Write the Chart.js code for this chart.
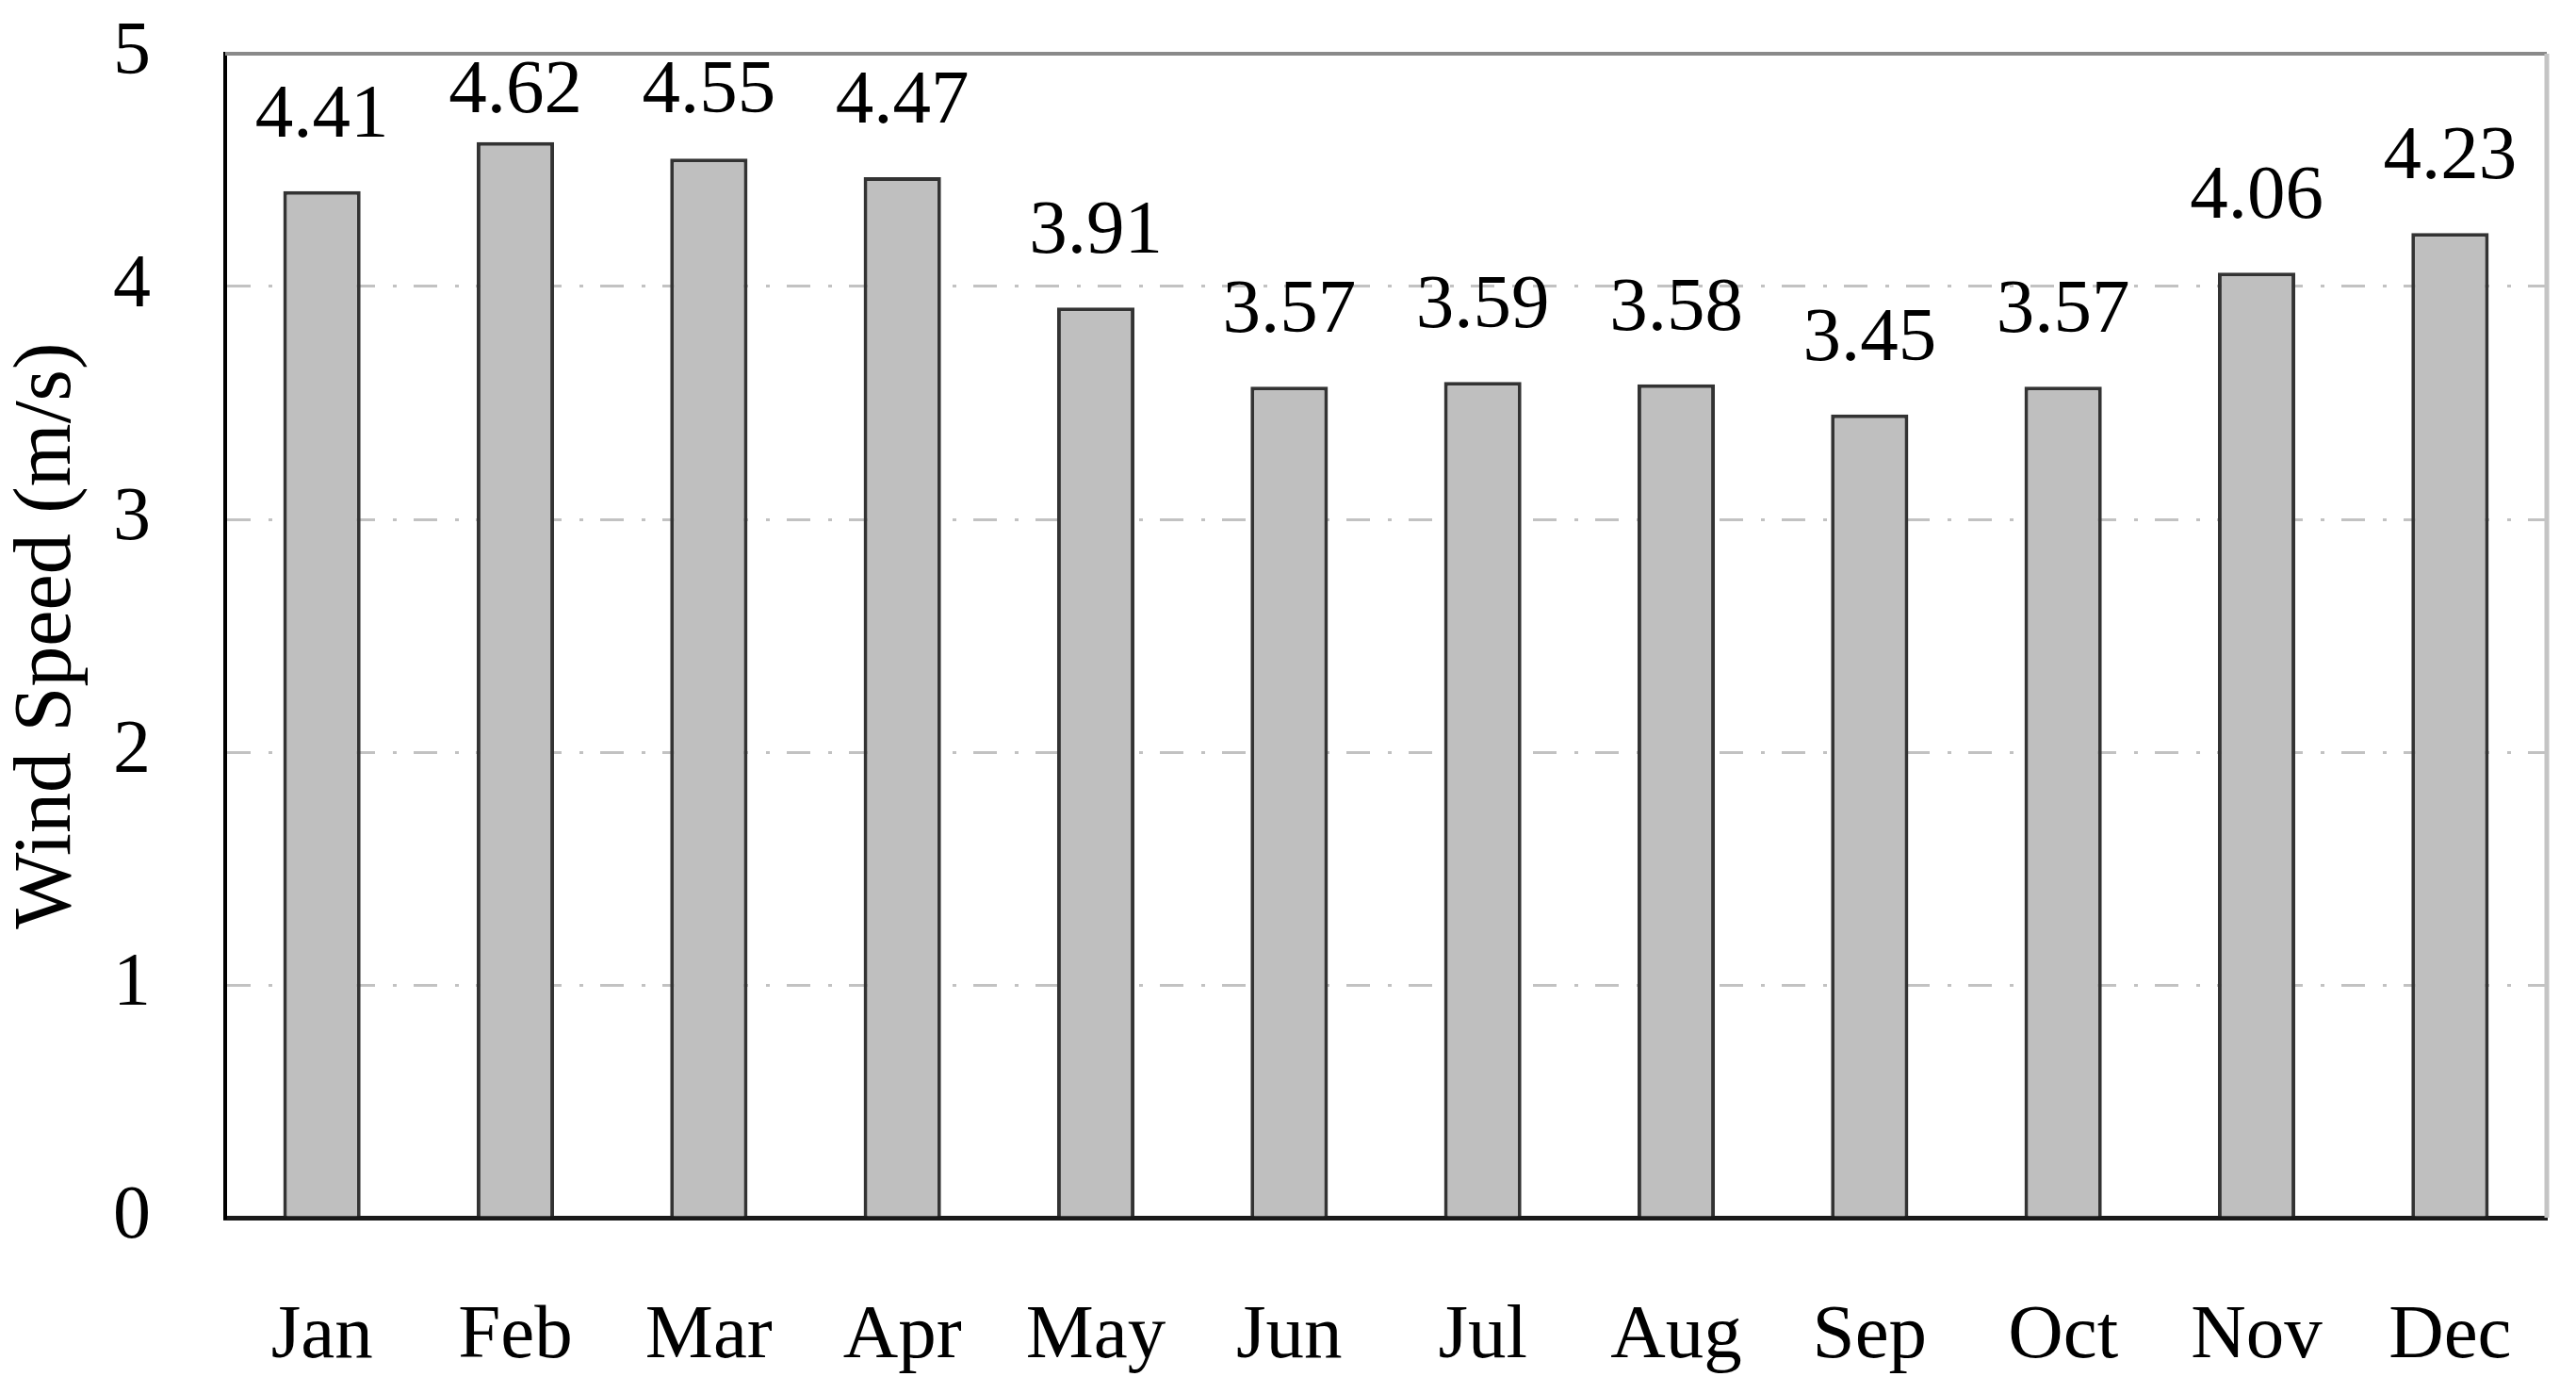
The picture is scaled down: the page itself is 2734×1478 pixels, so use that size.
<!DOCTYPE html>
<html>
<head>
<meta charset="utf-8">
<script src="https://cdn.jsdelivr.net/npm/chart.js@4/dist/chart.umd.min.js"></script>
<style>
html,body{margin:0;padding:0;background:#fff;}
#wrap{width:2734px;height:1478px;position:relative;}
</style>
</head>
<body>
<div id="wrap"><canvas id="c" width="2734" height="1478"></canvas></div>
<script>
const months = ["Jan","Feb","Mar","Apr","May","Jun","Jul","Aug","Sep","Oct","Nov","Dec"];
const windSpeed = [4.41,4.62,4.55,4.47,3.91,3.57,3.59,3.58,3.45,3.57,4.06,4.23];
const yTicks = [0,1,2,3,4,5];
const yTitle = "Wind Speed (m/s)";

const FONT = "'Liberation Serif', 'Times New Roman', serif";

const valueLabels = {
  id: 'valueLabels',
  afterDatasetsDraw(chart) {
    const ctx = chart.ctx;
    const meta = chart.getDatasetMeta(0);
    const area = chart.chartArea;
    ctx.save();
    ctx.font = "81px " + FONT;
    ctx.fillStyle = "#000";
    ctx.textAlign = "center";
    ctx.textBaseline = "alphabetic";
    meta.data.forEach((bar, i) => {
      const y = Math.max(bar.y - 58, area.top + 62);
      ctx.fillText(windSpeed[i].toFixed(2), bar.x, y);
    });
    ctx.restore();
  }
};

const frame = {
  id: 'frame',
  afterDraw(chart) {
    const ctx = chart.ctx;
    const a = chart.chartArea;
    ctx.save();
    ctx.lineWidth = 4;
    ctx.strokeStyle = "#8a8a8a";
    ctx.beginPath();
    ctx.moveTo(a.left, a.top);
    ctx.lineTo(a.right, a.top);
    ctx.stroke();
    ctx.strokeStyle = "#c4c4c4";
    ctx.lineWidth = 5;
    ctx.beginPath();
    ctx.moveTo(a.right, a.top);
    ctx.lineTo(a.right, a.bottom);
    ctx.stroke();
    ctx.restore();
  }
};

new Chart(document.getElementById('c'), {
  type: 'bar',
  data: {
    labels: months,
    datasets: [{
      data: windSpeed,
      backgroundColor: "#bfbfbf",
      borderColor: "#333333",
      borderWidth: 4,
      categoryPercentage: 1,
      barPercentage: 0.4
    }]
  },
  options: {
    responsive: false,
    animation: false,
    devicePixelRatio: 1,
    layout: { padding: { left: 0, right: 31, top: 57, bottom: 0 } },
    plugins: { legend: { display: false }, tooltip: { enabled: false } },
    scales: {
      x: {
        grid: { display: false, drawTicks: false },
        border: { display: true, color: "#1a1a1a", width: 5 },
        ticks: { color: "#000", font: { family: FONT, size: 81 }, padding: 78, maxRotation: 0 },
        afterFit(scale) { scale.height = 186; scale.paddingLeft = 0; scale.paddingRight = 0; }
      },
      y: {
        min: 0, max: 5,
        afterBuildTicks(scale) { scale.ticks = yTicks.map(v => ({ value: v })); },
        grid: { color: "#c2c2c2", lineWidth: 3, drawTicks: false },
        border: { display: true, color: "#000", width: 4, dash: [25, 19, 4, 18] },
        ticks: { color: "#000", font: { family: FONT, size: 80 }, padding: 79 },
        title: { display: true, text: yTitle, color: "#000", font: { family: FONT, size: 86 }, padding: 0 },
        afterFit(scale) { scale.width = 239; scale.paddingTop = 0; scale.paddingBottom = 0; }
      }
    }
  },
  plugins: [valueLabels, frame]
});
</script>
</body>
</html>
